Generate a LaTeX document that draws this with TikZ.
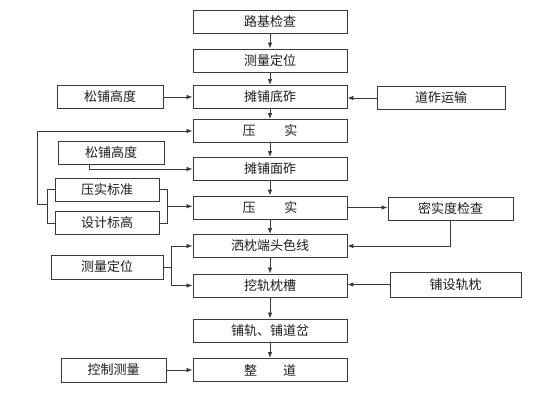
\documentclass[tikz,border=0pt]{standalone}
\usepackage{fontspec}
\newfontfamily\cjk{Noto Sans CJK SC}
\usetikzlibrary{arrows.meta,calc}
\definecolor{linec}{HTML}{3A3A3A}
\definecolor{textc}{HTML}{1E1E1E}
\tikzset{
  box/.style={draw=linec, line width=0.9pt, fill=white, minimum height=23pt, inner sep=0pt,
    font=\cjk\fontsize{13}{15}\selectfont, text=textc},
  mainbox/.style={box, minimum width=154pt},
  conn/.style={draw=linec, line width=0.7pt},
  arr/.style={conn, -{Latex[length=6pt,width=4.5pt]}}
}
\begin{document}
\begin{tikzpicture}[x=1pt,y=-1pt]
\useasboundingbox (0,0) rectangle (560,420);
% main column
\node[mainbox] (B1) at (270,21.5) {路基检查};
\node[mainbox] (B2) at (270,60.5) {测量定位};
\node[mainbox] (B3) at (270,97) {摊铺底砟};
\node[mainbox] (B4) at (270,131) {压\hspace{2.2em}实};
\node[mainbox] (B5) at (270,169) {摊铺面砟};
\node[mainbox] (B6) at (270,207.5) {压\hspace{2.2em}实};
\node[mainbox] (B7) at (270,246) {洒枕端头色线};
\node[mainbox] (B8) at (270,285.5) {挖轨枕槽};
\node[mainbox] (B9) at (270,330.5) {铺轨、铺道岔};
\node[mainbox] (B10) at (270,370) {整\hspace{2em}道};
% side boxes
\node[box, minimum width=106pt] (L1) at (110,97) {松铺高度};
\node[box, minimum width=128pt] (R1) at (441,98) {道砟运输};
\node[box, minimum width=106pt] (L2) at (111,153) {松铺高度};
\node[box, minimum width=104pt] (L3) at (107,189.5) {压实标准};
\node[box, minimum width=104pt] (L4) at (107,223) {设计标高};
\node[box, minimum width=125pt] (R2) at (450.5,208.5) {密实度检查};
\node[box, minimum width=112pt, minimum height=24pt] (L5) at (107,267) {测量定位};
\node[box, minimum width=131pt, minimum height=25pt] (R3) at (455.5,284.5) {铺设轨枕};
\node[box, minimum width=105pt, minimum height=24pt] (L6) at (113.5,370) {控制测量};
% helper coordinates
\coordinate (lbx) at (47,0);
\coordinate (fbx) at (37,0);
\coordinate (rbx) at (167,0);
\coordinate (jx) at (171,0);
% main column arrows
\foreach \a/\b in {B1/B2,B2/B3,B3/B4,B4/B5,B5/B6,B6/B7,B7/B8,B8/B9,B9/B10}
  \draw[arr] (\a.south) -- (\b.north);
% side arrows
\draw[arr] (L1.east) -- (L1.east -| B3.west);
\draw[arr] (R1.west) -- (R1.west -| B3.east);
\draw[arr] ($(L2.south west)!0.3!(L2.south east)$) |- (B5.west);
% left bracket and feedback
\draw[conn] (L3.west) -- (L3.west -| lbx) -- (L4.west -| lbx) -- (L4.west);
\coordinate (lbm) at ($(L3.west -| lbx)!0.45!(L4.west -| lbx)$);
\draw[arr] (lbm) -- (lbm -| fbx) |- (B4.west);
% right bracket
\draw[conn] (L3.east) -- (L3.east -| rbx) -- (L4.east -| rbx) -- (L4.east);
\coordinate (rbm) at ($(L3.east -| rbx)!0.5!(L4.east -| rbx)$);
\draw[arr] (rbm) -- (rbm -| B6.west);
% compaction check
\draw[arr] (B6.east) -- (B6.east -| R2.west);
\draw[arr] (R2.south) |- (B7.east);
% survey to B7 and B8
\draw[conn] (L5.east) -- (L5.east -| jx);
\draw[arr] (L5.east -| jx) |- (B7.west);
\draw[arr] (L5.east -| jx) |- (B8.west);
\draw[arr] (R3.west) -- (R3.west -| B8.east);
\draw[arr] (L6.east) -- (L6.east -| B10.west);
\end{tikzpicture}
\end{document}
